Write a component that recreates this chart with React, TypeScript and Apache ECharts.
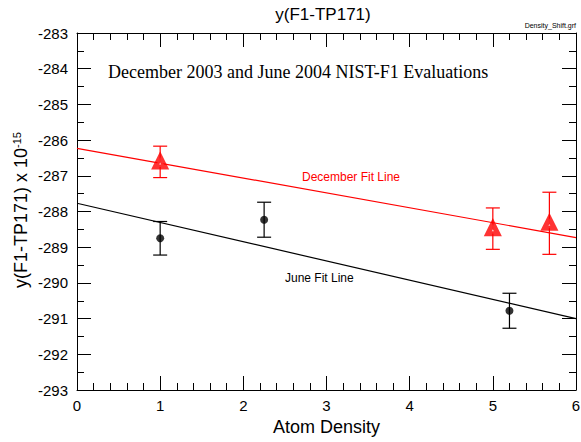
import React, { useEffect, useRef } from "react";
import * as echarts from "echarts";

const juneX = [1, 2.25, 5.2];
const juneY = [-288.75, -288.23, -290.78];
const juneErr = [0.47, 0.49, 0.49];

const decX = [1, 5, 5.68];
const decY = [-286.61, -288.48, -288.33];
const decErr = [0.44, 0.58, 0.87];

const decFitX = [0, 6];
const decFitY = [-286.23, -288.73];
const juneFitX = [0, 6];
const juneFitY = [-287.77, -291.0];

const xMin = 0, xMax = 6, yMin = -293, yMax = -283;

const FONT = "Arial, 'Liberation Sans', sans-serif";

function errData(xs: number[], ys: number[], es: number[]) {
  return xs.map((x, i) => [x, ys[i] - es[i], ys[i] + es[i]]);
}

function errSeries(xs: number[], ys: number[], es: number[], color: string) {
  return {
    type: "custom",
    xAxisIndex: 0,
    yAxisIndex: 0,
    data: errData(xs, ys, es),
    z: 3,
    renderItem: (params: any, api: any) => {
      const x = api.value(0);
      const lo = api.coord([x, api.value(1)]);
      const hi = api.coord([x, api.value(2)]);
      const hw = 7;
      const style = { stroke: color, lineWidth: 1.2 };
      return {
        type: "group",
        children: [
          { type: "line", shape: { x1: lo[0], y1: lo[1], x2: hi[0], y2: hi[1] }, style },
          { type: "line", shape: { x1: lo[0] - hw, y1: lo[1], x2: lo[0] + hw, y2: lo[1] }, style },
          { type: "line", shape: { x1: hi[0] - hw, y1: hi[1], x2: hi[0] + hw, y2: hi[1] }, style },
        ],
      };
    },
  };
}

export default function App() {
  const ref = useRef<HTMLDivElement>(null);
  useEffect(() => {
    if (!ref.current) return;
    const chart = echarts.init(ref.current, undefined, { renderer: "svg" });
    const tick = { show: true, inside: true, length: 14, lineStyle: { color: "#000", width: 1 } };
    const axisLine = { show: true, onZero: false, lineStyle: { color: "#000", width: 1 } };
    chart.setOption({
      animation: false,
      backgroundColor: "#fff",
      grid: { left: 77, right: 5, top: 33, bottom: 52, outerBoundsMode: "none", containLabel: false },
      xAxis: [
        {
          type: "value",
          min: xMin, max: xMax, interval: 1,
          axisLine, axisTick: tick, splitLine: { show: false },
          minorTick: { show: true, splitNumber: 5, length: 7, lineStyle: { color: "#000" } },
          axisLabel: { color: "#000", fontSize: 15, fontFamily: FONT, margin: 8 },
          name: "Atom Density",
          nameLocation: "middle",
          nameGap: 27,
          nameTextStyle: { color: "#000", fontSize: 18, fontFamily: FONT },
        },
        {
          type: "value",
          position: "top",
          min: xMin, max: xMax, interval: 1,
          axisLine, axisTick: tick, splitLine: { show: false },
          minorTick: { show: true, splitNumber: 5, length: 7, lineStyle: { color: "#000" } },
          axisLabel: { show: false },
        },
      ],
      yAxis: [
        {
          type: "value",
          min: yMin, max: yMax, interval: 1,
          axisLine, axisTick: tick, splitLine: { show: false },
          minorTick: { show: true, splitNumber: 2, length: 7, lineStyle: { color: "#000" } },
          axisLabel: { color: "#000", fontSize: 15, fontFamily: FONT, margin: 9 },
        },
        {
          type: "value",
          position: "right",
          min: yMin, max: yMax, interval: 1,
          axisLine, axisTick: tick, splitLine: { show: false },
          minorTick: { show: true, splitNumber: 2, length: 7, lineStyle: { color: "#000" } },
          axisLabel: { show: false },
        },
      ],
      series: [
        {
          type: "line",
          data: decFitX.map((x, i) => [x, decFitY[i]]),
          symbol: "none",
          lineStyle: { color: "#ff0000", width: 1.2 },
          z: 2,
        },
        {
          type: "line",
          data: juneFitX.map((x, i) => [x, juneFitY[i]]),
          symbol: "none",
          lineStyle: { color: "#000", width: 1.2 },
          z: 2,
        },
        errSeries(juneX, juneY, juneErr, "#000"),
        errSeries(decX, decY, decErr, "#ff0000"),
        {
          type: "scatter",
          data: juneX.map((x, i) => [x, juneY[i]]),
          symbol: "circle",
          symbolSize: 8,
          itemStyle: { color: "#000" },
          z: 4,
        },
        {
          type: "scatter",
          data: decX.map((x, i) => [x, decY[i]]),
          symbol: "triangle",
          symbolSize: 10,
          itemStyle: { color: "#fff", borderColor: "#ff0000", borderWidth: 5 },
          z: 4,
        },
      ],
      graphic: [
        { type: "text", x: 323, y: 14, style: { text: "y(F1-TP171)", fontSize: 17, fontFamily: FONT, fill: "#000", textAlign: "center", textVerticalAlign: "middle" } },
        { type: "text", x: 576, y: 25, style: { text: "Density_Shift.grf", fontSize: 7, fontFamily: FONT, fill: "#000", textAlign: "right", textVerticalAlign: "middle" } },
        {
          type: "text", x: 21, y: 210, rotation: Math.PI / 2,
          style: {
            text: "y(F1-TP171) x 10{sup|-15}",
            fontSize: 18, fontFamily: FONT, fill: "#000", align: "center", verticalAlign: "middle",
            rich: { sup: { fontSize: 11, fontFamily: FONT, fill: "#000", padding: [0, 0, 9, 0] } },
          },
        },
        { type: "text", x: 108, y: 72, style: { text: "December 2003 and June 2004 NIST-F1 Evaluations", fontSize: 18, fontFamily: "'Liberation Serif', 'Times New Roman', serif", fill: "#000", textAlign: "left", textVerticalAlign: "middle" } },
        { type: "text", x: 302, y: 177, style: { text: "December Fit Line", fontSize: 12, fontFamily: FONT, fill: "#ff0000", textAlign: "left", textVerticalAlign: "middle" } },
        { type: "text", x: 285, y: 278, style: { text: "June Fit Line", fontSize: 12, fontFamily: FONT, fill: "#000", textAlign: "left", textVerticalAlign: "middle" } },
      ],
    });
    return () => chart.dispose();
  }, []);
  return <div ref={ref} style={{ width: 581, height: 442, position: "absolute", left: 0, top: 0 }} />;
}
